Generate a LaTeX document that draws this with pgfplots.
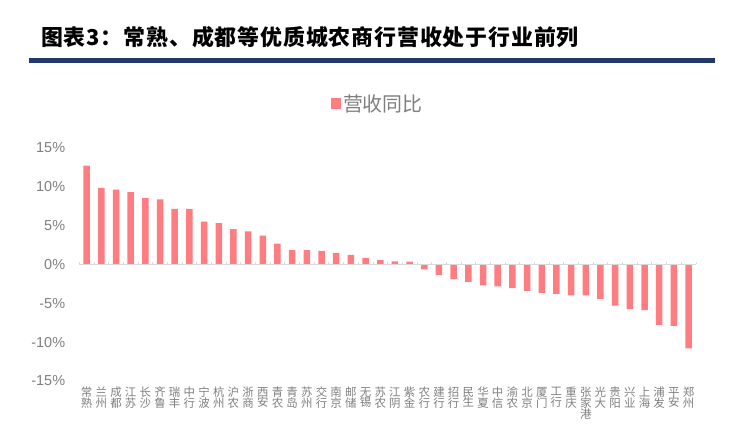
\documentclass[border=0pt]{standalone}
\usepackage{pgfplots}
\usepackage{pgfplotstable}
\pgfplotsset{compat=1.18}
\usepackage{fontspec}
\setmainfont{Liberation Sans}
\newfontfamily\cjk{Noto Sans CJK SC}
\newfontfamily\cjktitle[LetterSpace=4]{Noto Sans CJK SC}
\definecolor{barred}{HTML}{FF7C80}
\definecolor{txtgray}{HTML}{7F7F7F}
\definecolor{navyline}{HTML}{1F3A68}
\definecolor{axisgray}{HTML}{D9D9D9}
\pgfplotstableread{
x y
0 12.74
1 9.86
2 9.65
3 9.31
4 8.57
5 8.37
6 7.16
7 7.16
8 5.53
9 5.32
10 4.54
11 4.25
12 3.73
13 2.70
14 1.84
15 1.84
16 1.75
17 1.49
18 1.24
19 0.85
20 0.55
21 0.40
22 0.38
23 -0.64
24 -1.38
25 -1.85
26 -2.24
27 -2.70
28 -2.83
29 -3.04
30 -3.40
31 -3.66
32 -3.78
33 -3.99
34 -3.99
35 -4.47
36 -5.28
37 -5.75
38 -5.88
39 -7.77
40 -7.90
41 -10.81
}\datatable
\begin{document}
\begin{tikzpicture}
\useasboundingbox (0,0) rectangle (755bp,436bp);
\node[anchor=west, inner sep=0pt, font=\cjktitle\bfseries\fontsize{22}{24}\selectfont] at (41bp,399bp) {图表3：常熟、成都等优质城农商行营收处于行业前列};
\draw[navyline, line width=4.3bp] (29bp,375.5bp) -- (715bp,375.5bp);
\begin{axis}[
  at={(79.3bp,55bp)}, anchor=south west,
  scale only axis, width=616.6bp, height=233bp,
  xmin=-0.5, xmax=41.5, ymin=-15, ymax=15,
  axis line style={draw=none},
  major tick length=0pt,
  xtick={0,...,41},
  xticklabels={{常\\熟},{兰\\州},{成\\都},{江\\苏},{长\\沙},{齐\\鲁},{瑞\\丰},{中\\行},{宁\\波},{杭\\州},{沪\\农},{浙\\商},{西\\安},{青\\农},{青\\岛},{苏\\州},{交\\行},{南\\京},{邮\\储},{无\\锡},{苏\\农},{江\\阴},{紫\\金},{农\\行},{建\\行},{招\\行},{民\\生},{华\\夏},{中\\信},{渝\\农},{北\\京},{厦\\门},{工\\行},{重\\庆},{张\\家\\港},{光\\大},{贵\\阳},{兴\\业},{上\\海},{浦\\发},{平\\安},{郑\\州}},
  xticklabel style={align=center, anchor=north, inner sep=0pt, yshift=-6bp, text=txtgray, font=\cjk\fontsize{11.5}{10.8}\selectfont},
  ytick={-15,-10,...,15},
  yticklabel={\pgfmathprintnumber{\tick}\%},
  /pgf/number format/assume math mode=true,
  yticklabel style={anchor=east, inner sep=0pt, xshift=-14bp, text=txtgray, font=\fontsize{14.5}{16}\selectfont},
  legend style={at={(axis description cs:0.408,1.191)}, anchor=west, draw=none, fill=none, inner sep=0pt, font=\cjk\fontsize{20}{22}\selectfont, text=txtgray},
  legend image code/.code={\fill[barred] (0bp,-5.5bp) rectangle (10bp,5.5bp);},
  clip=false,
]
\addplot[ybar, bar width=6.5bp, fill=barred, draw=none] table[x=x,y=y] {\datatable};
\addlegendentry{营收同比}
\draw[axisgray, line width=1.3bp] (axis cs:-0.5,0) -- (axis cs:41.5,0);
\pgfplotsinvokeforeach{-0.5,0.5,1.5,2.5,3.5,4.5,5.5,6.5,7.5,8.5,9.5,10.5,11.5,12.5,13.5,14.5,15.5,16.5,17.5,18.5,19.5,20.5,21.5,22.5,23.5,24.5,25.5,26.5,27.5,28.5,29.5,30.5,31.5,32.5,33.5,34.5,35.5,36.5,37.5,38.5,39.5,40.5,41.5}{\draw[axisgray, line width=0.8bp] (axis cs:#1,0) -- ++(0pt,2.5bp);}
\end{axis}
\end{tikzpicture}
\end{document}
